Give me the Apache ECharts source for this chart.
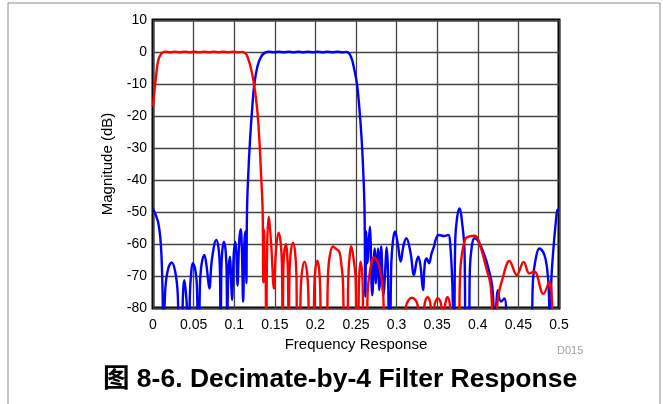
<!DOCTYPE html>
<html>
<head>
<meta charset="utf-8">
<script src="https://cdn.jsdelivr.net/npm/echarts@6/dist/echarts.min.js"></script>
<style>
  html, body { margin: 0; padding: 0; background: #fff; }
  #chart { width: 663px; height: 404px; }
</style>
</head>
<body>
<div id="chart"></div>
<script>
// Magnitude response of the decimate-by-4 filter bank, [normalized frequency, dB].
// Points below -80 dB mark the nulls; the plot clips them at the floor.
const lowBand = [
  [0, -17], [0.0037, -7.7], [0.0066, -2.5], [0.0107, -0.4], [0.015, 0.1],
  [0.021, -0.1], [0.027, 0.1], [0.033, -0.1], [0.039, 0.1], [0.045, -0.1],
  [0.051, 0.1], [0.057, -0.1], [0.063, 0.1], [0.069, -0.1], [0.075, 0.1],
  [0.081, -0.1], [0.087, 0.1], [0.093, -0.1], [0.099, 0.1], [0.105, -0.1],
  [0.11, 0.05], [0.1125, -0.2], [0.1154, -0.9], [0.1195, -4], [0.1236, -8.75],
  [0.128, -17.1], [0.131, -27.5], [0.133, -37.9], [0.135, -49.4], [0.1358, -72],
  [0.1368, -55.5], [0.1378, -72], [0.1385, -66], [0.1395, -95],
  [0.1405, -62], [0.1424, -51.5], [0.1455, -60], [0.149, -73.9],
  [0.1515, -62], [0.1547, -56.5], [0.1572, -59.5], [0.1588, -66.5], [0.1597, -95],
  [0.1604, -70], [0.1615, -63], [0.1638, -60], [0.1652, -63], [0.1663, -70], [0.167, -95],
  [0.1681, -69.6], [0.1697, -62.6], [0.1724, -59.6], [0.175, -62.6], [0.1766, -69.6], [0.1777, -95],
  [0.1806, -95], [0.1818, -75.5], [0.1836, -68.5], [0.1866, -65.5], [0.1895, -68.5], [0.1913, -75.5], [0.1925, -95],
  [0.1975, -95], [0.1985, -75], [0.1999, -68], [0.2025, -65.2], [0.2046, -68], [0.206, -75], [0.207, -95],
  [0.2131, -95], [0.2154, -70.8], [0.2175, -64], [0.2217, -60.8], [0.2255, -61.5], [0.2294, -62.4],
  [0.2318, -66], [0.234, -72], [0.236, -95],
  [0.2393, -95], [0.2405, -70.7], [0.2422, -63.7], [0.244, -60.7], [0.2465, -63.7], [0.2495, -70.7], [0.2508, -95],
  [0.2528, -95], [0.2534, -75], [0.2543, -68.5], [0.2556, -65.5], [0.2574, -68.5], [0.2584, -75], [0.259, -95],
  [0.2623, -95], [0.2646, -74], [0.2682, -67], [0.2715, -64.2], [0.2765, -65.5], [0.2799, -68.5], [0.2834, -75], [0.2857, -95],
  [0.3095, -86], [0.3115, -79.5], [0.3145, -77.6], [0.3185, -76.8], [0.3235, -77.6], [0.3262, -79.5], [0.3282, -86],
  [0.333, -86], [0.3342, -79.5], [0.3358, -77.4], [0.338, -76.6], [0.3405, -77.4], [0.342, -79.5], [0.3432, -86],
  [0.3452, -86], [0.3465, -79.5], [0.3483, -77.7], [0.3506, -76.9], [0.3535, -77.7], [0.3552, -79.5], [0.3568, -86],
  [0.3585, -86], [0.3596, -79.5], [0.361, -77.4], [0.3625, -76.6], [0.3645, -77.4], [0.3658, -79.5], [0.367, -86],
  [0.376, -95], [0.3785, -68], [0.384, -58.75], [0.3895, -57.6], [0.3966, -57.4],
  [0.402, -59.8], [0.411, -68], [0.416, -73.3], [0.4205, -95],
  [0.4245, -77.5], [0.4306, -70.7], [0.439, -65.3], [0.448, -69.7],
  [0.4565, -65.6], [0.4635, -69.2], [0.4696, -68.6], [0.4807, -75.6],
  [0.488, -71.8], [0.493, -85], [0.5, -100]
];

const highBand = [
  [0, -49], [0.0035, -51], [0.0066, -53.5], [0.009, -58], [0.0105, -64], [0.0118, -75], [0.0128, -95],
  [0.0148, -75.8], [0.0177, -68.8], [0.023, -65.8], [0.0275, -68.8], [0.0305, -75.8], [0.0324, -95],
  [0.0357, -95], [0.0364, -81], [0.0372, -74.3], [0.0385, -71.3], [0.0402, -74.3], [0.042, -81], [0.0427, -95],
  [0.0443, -95], [0.0454, -76], [0.047, -69], [0.049, -66], [0.0527, -69], [0.0544, -76], [0.0555, -95],
  [0.0565, -95], [0.0578, -73], [0.0598, -66.4], [0.0632, -63.4], [0.066, -67], [0.0694, -73.9],
  [0.0725, -65], [0.078, -58.75], [0.081, -62], [0.0825, -69], [0.0833, -95],
  [0.0841, -69.3], [0.0853, -62.3], [0.0874, -59.3], [0.0895, -62.3], [0.0907, -69.3], [0.0915, -95],
  [0.0922, -74], [0.0933, -67], [0.0948, -64], [0.096, -70], [0.0973, -77.5],
  [0.0995, -63], [0.1014, -59.3], [0.1028, -64], [0.104, -73],
  [0.1062, -59], [0.108, -55.4], [0.1095, -62], [0.111, -78],
  [0.1125, -60], [0.1137, -56.1], [0.1145, -62], [0.115, -72.3],
  [0.1158, -49.4], [0.1174, -37.9], [0.1195, -27.5], [0.1223, -17.1],
  [0.1248, -10], [0.1285, -4.6], [0.133, -1.5], [0.138, -0.2],
  [0.143, 0.1], [0.149, -0.1], [0.155, 0.1], [0.161, -0.1], [0.167, 0.1],
  [0.173, -0.1], [0.179, 0.1], [0.185, -0.1], [0.191, 0.1], [0.197, -0.1],
  [0.203, 0.1], [0.209, -0.1], [0.215, 0.1], [0.221, -0.1], [0.227, 0.1],
  [0.233, -0.1], [0.2385, 0], [0.2438, -1.5], [0.248, -5.6], [0.2512, -10],
  [0.254, -17.1], [0.257, -27.5], [0.259, -37.9], [0.2605, -49.4],
  [0.2615, -76.5], [0.2627, -56.1], [0.264, -66], [0.267, -54.6], [0.27, -76],
  [0.273, -61.4], [0.2746, -72.3], [0.277, -61.4], [0.2787, -74.4],
  [0.281, -60.8], [0.2837, -76], [0.2878, -61.1], [0.2915, -95],
  [0.2935, -66], [0.2955, -59], [0.298, -56.1], [0.3015, -60], [0.305, -65.5],
  [0.3085, -60.5], [0.312, -58.2], [0.317, -62.5], [0.3214, -69.7],
  [0.3245, -65.5], [0.3267, -64], [0.3295, -67], [0.3325, -74.4],
  [0.3348, -66], [0.337, -64.5], [0.34, -66], [0.343, -63], [0.346, -60.8],
  [0.349, -58], [0.352, -57.2], [0.3584, -57.5], [0.3637, -57.2], [0.366, -60],
  [0.3686, -72.3], [0.3707, -95],
  [0.3722, -58.9], [0.3744, -51.9], [0.3773, -48.9], [0.3812, -54.5], [0.3836, -62], [0.3855, -95],
  [0.389, -95], [0.3902, -68], [0.3925, -61], [0.3957, -58.2], [0.399, -58.6], [0.404, -60.8],
  [0.412, -66.6], [0.4183, -74.4], [0.421, -95], [0.4245, -74.4], [0.4286, -78],
  [0.4327, -77], [0.4409, -95], [0.4655, -95], [0.4679, -71.4], [0.4715, -64.4],
  [0.4758, -61.4], [0.482, -63.4], [0.4855, -68], [0.4875, -75], [0.4893, -95],
  [0.4905, -72], [0.493, -61.9], [0.4963, -52.5], [0.498, -49.4], [0.5, -49]
];

const xTicks = { min: 0, max: 0.5, step: 0.05 };
const yTicks = { min: -80, max: 10, step: 10 };

const font = "'Liberation Sans', Arial, 'Noto Sans CJK SC', sans-serif";
const chart = echarts.init(document.getElementById('chart'), null, { renderer: 'canvas' });

chart.setOption({
  animation: false,
  backgroundColor: '#fff',
  grid: {
    left: 153, right: 104, top: 20, bottom: 96,
    show: true, borderColor: '#000', borderWidth: 3, backgroundColor: 'transparent'
  },
  xAxis: {
    type: 'value',
    min: xTicks.min, max: xTicks.max, interval: xTicks.step,
    name: 'Frequency Response',
    nameLocation: 'middle', nameGap: 28,
    nameTextStyle: { fontFamily: font, fontSize: 15, color: '#000' },
    axisLine: { show: false },
    axisTick: { show: false },
    axisLabel: {
      margin: 10, fontFamily: font, fontSize: 14, color: '#000',
      formatter: v => String(+v.toFixed(2))
    },
    splitLine: { show: true, lineStyle: { color: '#444', width: 1.3 } }
  },
  yAxis: {
    type: 'value',
    min: yTicks.min, max: yTicks.max, interval: yTicks.step,
    name: 'Magnitude (dB)',
    nameLocation: 'middle', nameGap: 38,
    nameTextStyle: { fontFamily: font, fontSize: 15, color: '#000' },
    axisLine: { show: false },
    axisTick: { show: false },
    axisLabel: { margin: 6, fontFamily: font, fontSize: 14, color: '#000' },
    splitLine: { show: true, lineStyle: { color: '#444', width: 1.3 } }
  },
  series: [
    {
      type: 'line', data: highBand, showSymbol: false, smooth: 0.4, clip: true,
      lineStyle: { color: '#0000ff', width: 2.4 }, z: 3
    },
    {
      type: 'line', data: lowBand, showSymbol: false, smooth: 0.4, clip: true,
      lineStyle: { color: '#ff0000', width: 2.4 }, z: 4
    }
  ],
  graphic: [
    {
      type: 'rect', z: -1, silent: true,
      shape: { x: 8, y: 3, width: 652, height: 430 },
      style: { fill: 'none', stroke: '#8a8a8a', lineWidth: 1 }
    },
    {
      type: 'text', left: 557, top: 345,
      style: { text: 'D015', fontFamily: font, fontSize: 11, fill: '#a0a0a0' }
    },
    {
      type: 'text', left: 103, top: 366,
      style: {
        text: '图 8-6. Decimate-by-4 Filter Response',
        fontFamily: font, fontSize: 26.5, fontWeight: 'bold', fill: '#000'
      }
    }
  ]
});
</script>
</body>
</html>
